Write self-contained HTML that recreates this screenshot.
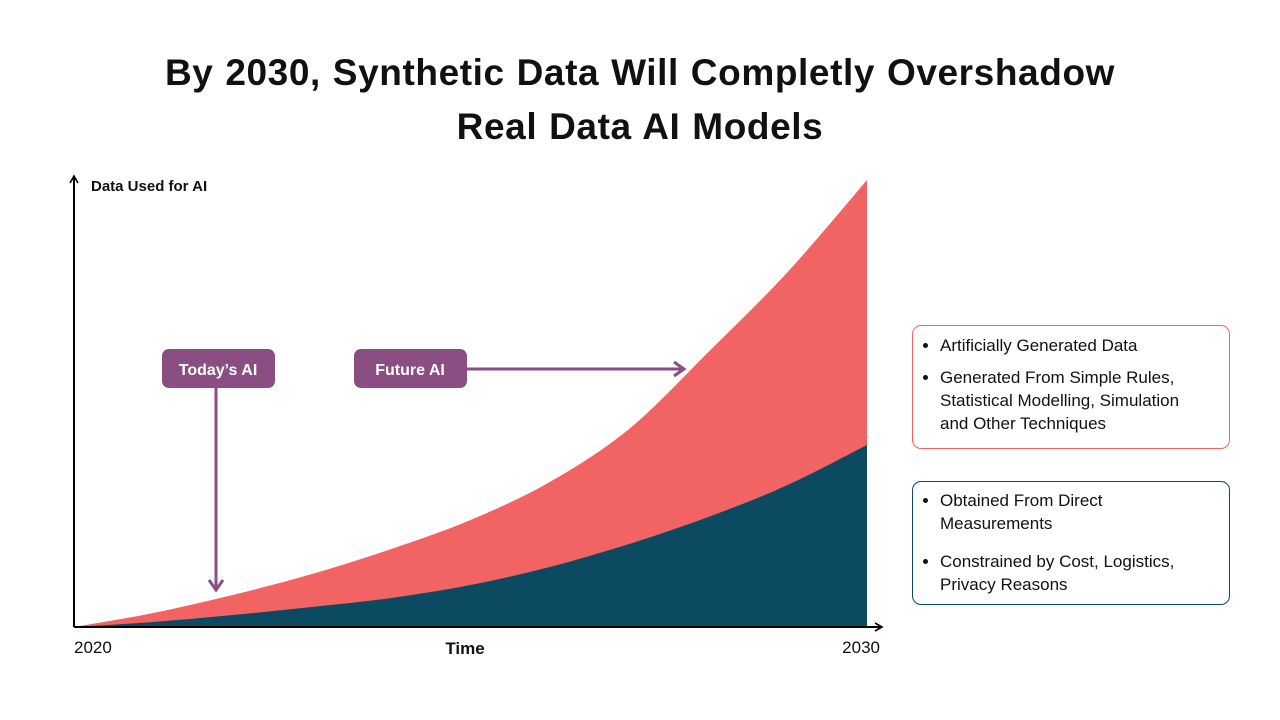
<!DOCTYPE html>
<html><head><meta charset="utf-8"><style>
body{margin:0;width:1280px;height:720px;background:#fff;font-family:"Liberation Sans",sans-serif;overflow:hidden;position:relative}
.title{position:absolute;left:0;width:1280px;top:46px;text-align:center;font-weight:bold;font-size:37px;line-height:54px;color:#111;letter-spacing:0.6px;word-spacing:1px}
.box{position:absolute;left:912px;width:318px;border-radius:9px;box-sizing:border-box;font-size:17px;color:#111;line-height:23px;white-space:nowrap}
.box ul{margin:0;padding:0 0 0 27px}
.box li{margin:0}
</style></head><body>
<div class="title">By 2030, Synthetic Data Will Completly Overshadow<br>Real Data AI Models</div>
<svg width="1280" height="720" style="position:absolute;left:0;top:0">
<g id="areas"></g>
<line x1="74" y1="627" x2="74" y2="178" stroke="#000" stroke-width="2"/>
<path d="M70,183 L74,176 L78,183" fill="none" stroke="#000" stroke-width="1.6"/>
<line x1="74" y1="627" x2="880" y2="627" stroke="#000" stroke-width="2"/>
<path d="M875,623 L882,627 L875,631" fill="none" stroke="#000" stroke-width="1.6"/>
<text x="91" y="191" font-size="15" font-weight="bold" fill="#111">Data Used for AI</text>
<text x="465" y="654" font-size="17" font-weight="bold" text-anchor="middle" fill="#111">Time</text>
<text x="74" y="653" font-size="17" fill="#111">2020</text>
<text x="880" y="653" font-size="17" text-anchor="end" fill="#111">2030</text>
<g>
<rect x="162" y="349" width="113" height="39" rx="7" fill="#8a4e82"/>
<text x="218" y="375" font-size="16" font-weight="bold" fill="#fff" text-anchor="middle">Today’s AI</text>
<line x1="216" y1="388" x2="216" y2="588" stroke="#8a4e82" stroke-width="3"/>
<path d="M209,580 L216,590 L223,580" fill="none" stroke="#8a4e82" stroke-width="3"/>
</g>
<g>
<rect x="354" y="349" width="113" height="39" rx="7" fill="#8a4e82"/>
<text x="410" y="375" font-size="16" font-weight="bold" fill="#fff" text-anchor="middle">Future AI</text>
<line x1="467" y1="369" x2="682" y2="369" stroke="#8a4e82" stroke-width="3"/>
<path d="M674,362 L684,369 L674,376" fill="none" stroke="#8a4e82" stroke-width="3"/>
</g>
</svg>
<div class="box" style="top:325px;height:124px;border:1.5px solid #f26363;padding:8px 0 0 0">
<ul><li style="margin-bottom:9px">Artificially Generated Data</li><li>Generated From Simple Rules,<br>Statistical Modelling, Simulation<br>and Other Techniques</li></ul></div>
<div class="box" style="top:481px;height:124px;border:1.5px solid #0b4a60;padding:7px 0 0 0">
<ul><li style="margin-bottom:15px">Obtained From Direct<br>Measurements</li><li>Constrained by Cost, Logistics,<br>Privacy Reasons</li></ul></div>
<script>
const years=[2020,2021,2022,2023,2024,2025,2026,2027,2028,2029,2030];
const totalData=[0,14,32,53,78,107,145,198,275,355,447];
const realData=[0,5,12,20,29,42,60,83,110,142,182];
function xS(y){return 74+(y-2020)*(867-74)/10;}
function yS(v){return 627-v;}
function smooth(pts){let d='M'+pts[0][0]+','+pts[0][1];for(let i=0;i<pts.length-1;i++){const p0=pts[i-1]||pts[i],p1=pts[i],p2=pts[i+1],p3=pts[i+2]||p2;const c1=[p1[0]+(p2[0]-p0[0])/6,p1[1]+(p2[1]-p0[1])/6],c2=[p2[0]-(p3[0]-p1[0])/6,p2[1]-(p3[1]-p1[1])/6];d+=' C'+c1+' '+c2+' '+p2;}return d;}
function area(vals,color,name){const pts=years.map((y,i)=>[xS(y),yS(vals[i])]);const d=smooth(pts)+' L'+xS(2030)+','+yS(0)+' L'+xS(2020)+','+yS(0)+'Z';const p=document.createElementNS('http://www.w3.org/2000/svg','path');p.setAttribute('d',d);p.setAttribute('fill',color);


document.getElementById('areas').appendChild(p);}
area(totalData,'#f26363','synthetic-data-area');
area(realData,'#0b4a60','real-data-area');
</script>
</body></html>
